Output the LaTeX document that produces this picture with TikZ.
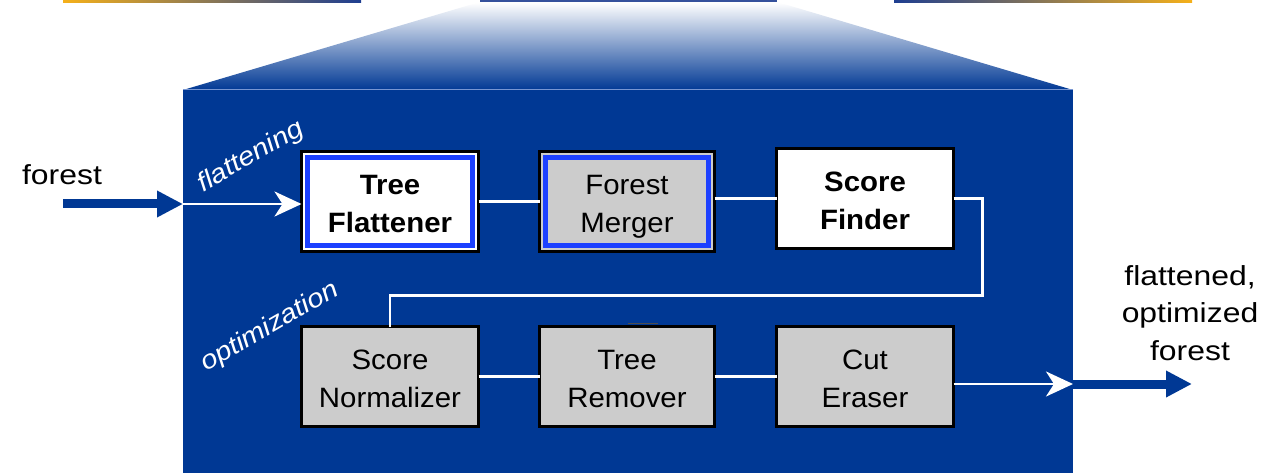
\documentclass[tikz,border=0pt]{standalone}
\usepackage{fontspec}
\setmainfont{Liberation Sans}
\newfontfamily\boxfont[FakeStretch=1.05]{Liberation Sans}
\newfontfamily\lblfont[FakeStretch=1.16]{Liberation Sans}
\newfontfamily\tagfont[FakeStretch=1.12]{Liberation Sans}
\usetikzlibrary{arrows.meta,calc}
\definecolor{panelblue}{RGB}{0,56,148}
\definecolor{edgeblue}{RGB}{28,64,255}
\definecolor{boxgray}{RGB}{204,204,204}
\definecolor{barorange}{RGB}{245,176,26}
\definecolor{barblue}{RGB}{30,62,145}
\definecolor{seamblue}{RGB}{120,150,210}
\begin{document}
\begin{tikzpicture}[x=1pt,y=-1pt,
  stage/.style={draw=black, line width=3pt, minimum width=177pt, minimum height=100pt,
    inner sep=0pt, outer sep=0pt, align=center, font=\boxfont\fontsize{28}{38}\selectfont,
    text height=62pt, text depth=0pt},
  plainstage/.style={stage, fill=boxgray},
  keystage/.style={stage, fill=white, font=\boxfont\bfseries\fontsize{28}{38}\selectfont},
  doubled/.style={path picture={\draw[edgeblue, line width=5pt]
      ([xshift=6pt,yshift=-6pt]path picture bounding box.north west) rectangle
      ([xshift=-6pt,yshift=6pt]path picture bounding box.south east);}},
  link/.style={draw=white, line width=2.5pt},
  flow/.style={link, -{Stealth[length=27pt,width=25pt,inset=8pt]}},
  pipe/.style={draw=panelblue, line width=9pt, -{Triangle[length=26pt,width=25pt]}},
  outtext/.style={font=\lblfont\fontsize{27.5}{37.5}\selectfont, inner sep=0pt},
  phase/.style={font=\tagfont\itshape\fontsize{26}{30}\selectfont, text=white, rotate=30, inner sep=0pt}
]
\useasboundingbox (0,0) rectangle (1271,473);

% thin bars along the top edge
\shade[left color=barorange, right color=barblue] (63,0) rectangle (361,2.5);
\fill[barblue!90!white] (480,0) rectangle (777,2.5);
\shade[left color=barblue, right color=barorange] (894,0) rectangle (1192,2.5);

% zoom funnel and the panel below it
\shade[top color=white, bottom color=panelblue] (478,2.5) -- (779,2.5) -- (1073,90) -- (183,90) -- cycle;
\fill[panelblue] (183,90) rectangle (1073,473);
\draw[seamblue, line width=1pt] (183,90) -- (1073,90);
\draw[gray!60!black, line width=1.5pt] (628,323.5) -- (658,323.5);

% processing stages
\node[keystage, doubled] (tf) at (390,201.5) {Tree\\Flattener};
\node[plainstage, doubled, minimum width=175pt] (fm) at (627,201.5) {Forest\\Merger};
\node[keystage] (sf) at (865,198.5) {Score\\Finder};
\node[plainstage] (sn) at (390,376.5) {Score\\Normalizer};
\node[plainstage, minimum width=175pt] (tr) at (627,376.5) {Tree\\Remover};
\node[plainstage] (ce) at (865,376.5) {Cut\\Eraser};

% phase labels
\node[phase] (flatlabel) at (251,157) {flattening};
\node[phase] (optlabel) at (270,327) {optimization};

% input and output
\coordinate (src) at (63,204);
\coordinate (inL) at (183,204);
\coordinate (outR) at (1073,384);
\coordinate (dst) at (1192,384);
\node[outtext, anchor=base] (inlabel) at (62,185) {forest};
\node[outtext, align=center, anchor=base] (outlabel) at (1190,360) {flattened,\\optimized\\forest};

\draw[pipe] (src) -- (inL);
\draw[flow] (inL) -- (inL -| tf.west);
\draw[link] (tf.east) -- (fm.west);
\draw[link] (sf.west -| fm.east) -- (sf.west);
\draw[link] (sf.east) -- ++(29,0) |- ($(sn.north)+(0,-31)$) -- (sn.north);
\draw[link] (sn.east) -- (tr.west);
\draw[link] (tr.east) -- (ce.west);
\draw[flow] (outR -| ce.east) -- (outR);
\draw[pipe] (outR) -- (dst);
\end{tikzpicture}
\end{document}
